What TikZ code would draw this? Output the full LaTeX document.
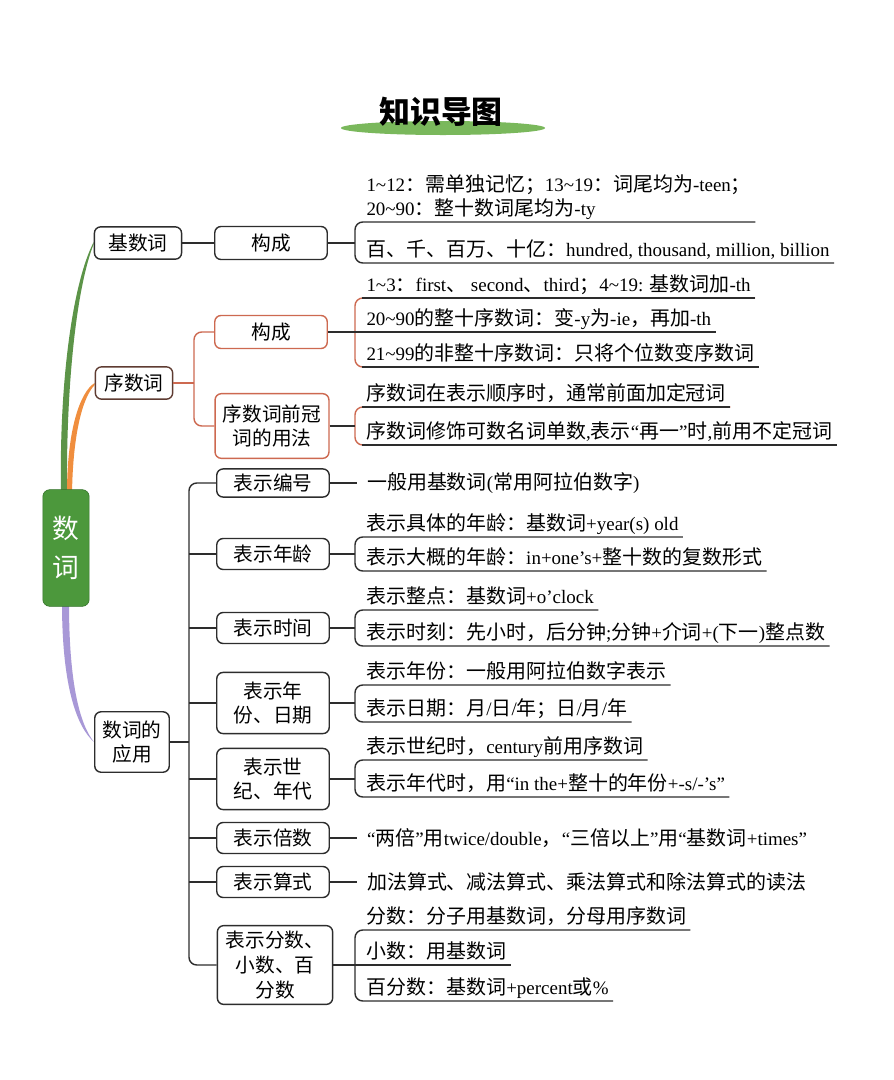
\documentclass[tikz,border=0pt]{standalone}
\usepackage{fontspec}
\setmainfont{Liberation Serif}[Scale=0.95]
\newfontfamily\hanfont{Noto Sans CJK SC}
\newfontfamily\latinfont{Liberation Serif}[Scale=0.95]
\usetikzlibrary{positioning,calc,backgrounds}

% Chinese characters in Noto Sans CJK, the rest in Liberation Serif
\XeTeXinterchartokenstate=1
\newXeTeXintercharclass\hanclass
\newcount\hancnt
\hancnt=0
\loop\ifnum\hancnt<"3000 \XeTeXcharclass\hancnt=0 \advance\hancnt by 1 \repeat
\hancnt="3000
\loop\ifnum\hancnt<"A000 \XeTeXcharclass\hancnt=\hanclass \advance\hancnt by 1 \repeat
\hancnt="FF00
\loop\ifnum\hancnt<"FFF0 \XeTeXcharclass\hancnt=\hanclass \advance\hancnt by 1 \repeat
\XeTeXinterchartoks 0 \hanclass = {\hanfont}
\XeTeXinterchartoks 4095 \hanclass = {\hanfont}
\XeTeXinterchartoks \hanclass 0 = {\latinfont}
\XeTeXinterchartoks \hanclass 4095 = {\latinfont}

\definecolor{linegray}{RGB}{45,45,45}
\definecolor{ordred}{RGB}{205,105,80}
\definecolor{xudark}{RGB}{95,60,50}
\definecolor{rootgreen}{RGB}{76,152,60}
\definecolor{rootdark}{RGB}{52,115,42}
\definecolor{titlegreen}{RGB}{122,184,92}
\definecolor{branchgreen}{RGB}{92,148,72}
\definecolor{branchorange}{RGB}{240,142,62}
\definecolor{branchpurple}{RGB}{168,152,215}

\begin{document}
\begin{tikzpicture}[x=0.025cm, y=-0.025cm,
    topic/.style={draw=linegray, line width=1pt, rounded corners=4.5pt, fill=white,
      align=center, inner sep=1pt, font=\fontsize{14}{17.5}\selectfont},
    leaf/.style={anchor=south west, inner xsep=3pt, inner ysep=0pt, text depth=4.3pt,
      align=left, font=\fontsize{14.2}{17}\selectfont},
    single/.style={anchor=west, inner xsep=7pt, font=\fontsize{14.2}{17}\selectfont},
    conn/.style={draw=linegray, line width=1pt},
    brk/.style={conn, rounded corners=5.5pt}]

    % Page
    \begin{scope}[on background layer]
      \fill[white] (0,0) rectangle (894,1080);
    \end{scope}
    \useasboundingbox (0,0) rectangle (894,1080);

    % Title
    \fill[titlegreen] (443,128) ellipse [x radius=102, y radius=7];
    \node[font=\bfseries\fontsize{22}{26}\selectfont] (title) at (441,112) {知识导图};

    % Root
    \node[draw=rootdark, fill=rootgreen, rounded corners=5pt, minimum width=33pt,
      minimum height=83pt, text=white, align=center,
      font=\fontsize{19}{28}\selectfont] (root) at (66,548) {数\\词};

    % Level 1
    \node[topic, minimum width=62pt, minimum height=23pt] (jishu) at (138,243) {基数词};
    \node[topic, draw=xudark, minimum width=55pt, minimum height=23pt] (xushu) at (134,383) {序数词};
    \node[topic, minimum width=53pt, minimum height=43pt] (yingyong) at (132,742) {数词的\\应用};

    % Branches from the root
    \begin{scope}[on background layer]
      \fill[branchgreen] ($(root.north)+(-5,4)$) .. controls (59,380) and (73,282) .. ($(jishu.west)+(0,-1)$)
        -- ($(jishu.west)+(0,1)$) .. controls (77,286) and (66,382) .. ($(root.north)+(1,4)$) -- cycle;
      \fill[branchorange] ($(root.north)+(1,4)$) .. controls (67,430) and (80,392) .. (xushu.west)
        -- ($(xushu.west)+(0,2)$) .. controls (83,397) and (73,432) .. ($(root.north)+(6,4)$) -- cycle;
      \fill[branchpurple] ($(root.south)+(-4,-4)$) .. controls (62,690) and (78,728) .. (yingyong.west)
        .. controls (81,726) and (69,688) .. ($(root.south)+(3,-4)$) -- cycle;
    \end{scope}

    % Cardinal numbers
    \node[topic, minimum width=80pt, minimum height=23.5pt] (gouA) at (271,243) {构成};
    \coordinate (ka) at (355,243);
    \node[leaf] (a1) at (362,222) {1\textasciitilde12：需单独记忆；13\textasciitilde19：词尾均为-teen；\\20\textasciitilde90：整十数词尾均为-ty};
    \node[leaf] (a2) at (362,263) {百、千、百万、十亿：hundred, thousand, million, billion};
    \draw[conn] (jishu) -- (gouA);
    \draw[conn] (gouA) -- (ka);
    \draw[brk] (a1.south east) -| (ka) |- (a2.south east);

    % Ordinal numbers
    \node[topic, draw=ordred, minimum width=80pt, minimum height=23.5pt] (gouB) at (271,332) {构成};
    \node[topic, draw=ordred, minimum width=81pt, minimum height=46pt] (qianguan) at (272,426) {序数词前冠\\词的用法};
    \coordinate (kx) at (194,383);
    \draw[brk, draw=ordred] (gouB.west) -| (kx) |- (qianguan.west);
    \draw[conn, draw=ordred] (xushu.east) -- (kx);

    \coordinate (kb) at (355,332);
    \node[leaf] (b1) at (362,298) {1\textasciitilde3：first、 second、third；4\textasciitilde19: 基数词加-th};
    \node[leaf] (b2) at (362,332) {20\textasciitilde90的整十序数词：变-y为-ie，再加-th};
    \node[leaf] (b3) at (362,367) {21\textasciitilde99的非整十序数词：只将个位数变序数词};
    \draw[brk, draw=ordred] (b1.south east) -| (kb) |- (b3.south east);
    \foreach \n in {b1,b3}
      \draw[conn] (\n.south west) -- (\n.south east);
    \draw[conn] (gouB.east) -- (b2.south east);

    \coordinate (kc) at (355,426);
    \node[leaf] (c1) at (362,407) {序数词在表示顺序时，通常前面加定冠词};
    \node[leaf] (c2) at (362,445) {序数词修饰可数名词单数,表示“再一”时,前用不定冠词};
    \draw[brk, draw=ordred] (c1.south east) -| (kc) |- (c2.south east);
    \foreach \n in {c1,c2}
      \draw[conn] (\n.south west) -- (\n.south east);
    \draw[conn] (qianguan.east) -- (kc);

    % Uses of numerals
    \node[topic, minimum width=80pt, minimum height=20pt] (bianhao) at (273,483) {表示编号};
    \node[topic, minimum width=80pt, minimum height=22pt] (nianling) at (273,554) {表示年龄};
    \node[topic, minimum width=80pt, minimum height=22pt] (shijian) at (273,628) {表示时间};
    \node[topic, minimum width=80pt, minimum height=43.5pt] (nianfen) at (273,703) {表示年\\份、日期};
    \node[topic, minimum width=80pt, minimum height=43.5pt] (shiji) at (273,779) {表示世\\纪、年代};
    \node[topic, minimum width=80pt, minimum height=22pt] (beishu) at (273,838) {表示倍数};
    \node[topic, minimum width=80pt, minimum height=22pt] (suanshi) at (273,882) {表示算式};
    \node[topic, minimum width=82pt, minimum height=56pt] (fenshu) at (275,965) {表示分数、\\小数、百\\分数};

    \coordinate (ky) at (189,742);
    \draw[brk] (bianhao.west) -| (ky) |- (fenshu.west);
    \foreach \n in {nianling,shijian,nianfen,shiji,beishu,suanshi}
      \draw[conn] (\n.west) -- (\n.west -| ky);
    \draw[conn] (yingyong.east) -- (ky);

    % Leaves of the uses
    \node[single] (d1) at (357,483) {一般用基数词(常用阿拉伯数字)};
    \draw[conn] (bianhao.east) -- (d1.west);

    \coordinate (ke) at (355,554);
    \node[leaf] (e1) at (362,537) {表示具体的年龄：基数词+year(s) old};
    \node[leaf] (e2) at (362,571) {表示大概的年龄：in+one’s+整十数的复数形式};
    \draw[brk] (e1.south east) -| (ke) |- (e2.south east);
    \draw[conn] (nianling.east) -- (ke);

    \coordinate (kf) at (355,628);
    \node[leaf] (f1) at (362,610) {表示整点：基数词+o’clock};
    \node[leaf] (f2) at (362,646) {表示时刻：先小时，后分钟;分钟+介词+(下一)整点数};
    \draw[brk] (f1.south east) -| (kf) |- (f2.south east);
    \draw[conn] (shijian.east) -- (kf);

    \coordinate (kg) at (355,703);
    \node[leaf] (g1) at (362,685) {表示年份：一般用阿拉伯数字表示};
    \node[leaf] (g2) at (362,722) {表示日期：月/日/年；日/月/年};
    \draw[brk] (g1.south east) -| (kg) |- (g2.south east);
    \draw[conn] (nianfen.east) -- (kg);

    \coordinate (kh) at (355,779);
    \node[leaf] (h1) at (362,760) {表示世纪时，century前用序数词};
    \node[leaf] (h2) at (362,797) {表示年代时，用“in the+整十的年份+-s/-’s”};
    \draw[brk] (h1.south east) -| (kh) |- (h2.south east);
    \draw[conn] (shiji.east) -- (kh);

    \node[single] (i1) at (357,838) {“两倍”用twice/double，“三倍以上”用“基数词+times”};
    \draw[conn] (beishu.east) -- (i1.west);

    \node[single] (j1) at (357,882) {加法算式、减法算式、乘法算式和除法算式的读法};
    \draw[conn] (suanshi.east) -- (j1.west);

    \coordinate (kk) at (355,965);
    \node[leaf] (k1) at (362,930) {分数：分子用基数词，分母用序数词};
    \node[leaf] (k2) at (362,965) {小数：用基数词};
    \node[leaf] (k3) at (362,1001) {百分数：基数词+percent或\%};
    \draw[brk] (k1.south east) -| (kk) |- (k3.south east);
    \draw[conn] (fenshu.east) -- (k2.south east);
\end{tikzpicture}
\end{document}
